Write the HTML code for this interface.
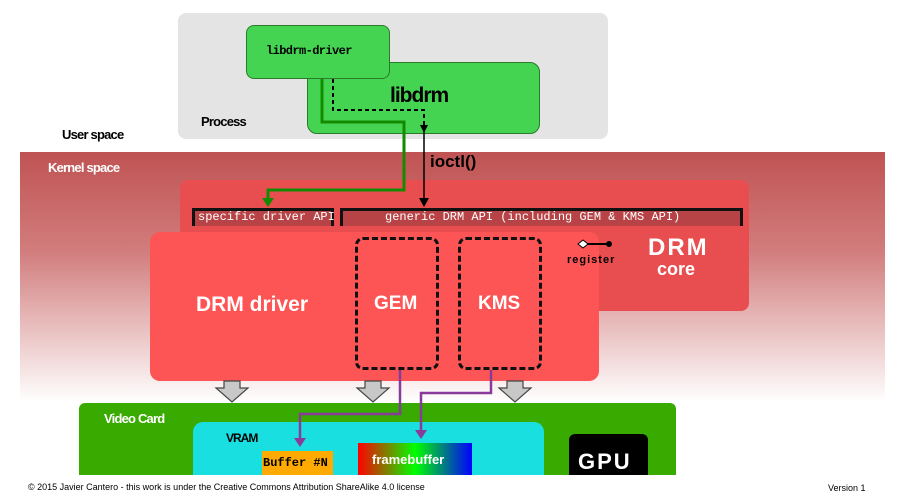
<!DOCTYPE html>
<html><head><meta charset="utf-8"><style>
body{margin:0;width:899px;height:504px;background:#fff;overflow:hidden;position:relative;font-family:"Liberation Sans",sans-serif}
.a{position:absolute;box-sizing:border-box}
.t{position:absolute;white-space:nowrap}
.mono{font-family:"Liberation Mono",monospace}
</style></head><body>
<div class="a" style="left:178px;top:13px;width:430px;height:126px;background:#e4e4e4;border-radius:8px"></div>
<div class="t" style="left:201px;top:114px;font-size:13px;font-weight:bold;letter-spacing:-0.8px">Process</div>
<div class="t" style="left:62px;top:127px;font-size:13px;font-weight:bold;letter-spacing:-0.8px">User space</div>
<div class="a" style="left:307px;top:62px;width:233px;height:72px;background:#44d452;border:1px solid #2a7a2a;border-radius:10px"></div>
<div class="t" style="left:390px;top:84px;font-size:21px;font-weight:bold;letter-spacing:-1px">libdrm</div>
<div class="a" style="left:246px;top:25px;width:144px;height:54px;background:#44d452;border:1px solid #2a7a2a;border-radius:8px"></div>
<div class="t mono" style="left:266px;top:44px;font-size:12px;font-weight:bold;letter-spacing:-0.6px">libdrm-driver</div>
<div class="a" style="left:20px;top:152px;width:865px;height:250px;background:linear-gradient(#c05353,#d27d7d 40%,#fff 100%)"></div>
<div class="t" style="left:48px;top:160px;font-size:13px;font-weight:bold;color:#fff;letter-spacing:-0.8px">Kernel space</div>
<div class="a" style="left:180px;top:180px;width:569px;height:131px;background:#e84e50;border-radius:8px"></div>
<div class="a" style="left:192px;top:208px;width:142px;height:18px;background:#b84347;border:3px solid #111;border-bottom:none"></div>
<div class="t mono" style="left:198px;top:210px;font-size:12px;color:#fff">specific driver API</div>
<div class="a" style="left:340px;top:208px;width:403px;height:18px;background:#b84347;border:3px solid #111;border-bottom:none"></div>
<div class="t mono" style="left:385px;top:210px;font-size:12px;color:#fff">generic DRM API (including GEM &amp; KMS API)</div>
<div class="t" style="left:648px;top:234px;font-size:24px;font-weight:bold;color:#fff;letter-spacing:2px">DRM</div>
<div class="t" style="left:657px;top:259px;font-size:18px;font-weight:bold;color:#fff">core</div>
<div class="a" style="left:150px;top:232px;width:449px;height:149px;background:#fd5555;border-radius:10px"></div>
<div class="t" style="left:567px;top:254px;font-size:11px;font-weight:bold;letter-spacing:1px">register</div>
<div class="t" style="left:196px;top:293px;font-size:21px;font-weight:bold;color:#fff">DRM driver</div>
<div class="a" style="left:355px;top:237px;width:84px;height:133px;border:3px dashed #111;border-radius:8px"></div>
<div class="t" style="left:374px;top:293px;font-size:19px;font-weight:bold;color:#fff">GEM</div>
<div class="a" style="left:458px;top:237px;width:84px;height:133px;border:3px dashed #111;border-radius:8px"></div>
<div class="t" style="left:478px;top:293px;font-size:19px;font-weight:bold;color:#fff">KMS</div>
<div class="a" style="left:79px;top:403px;width:597px;height:72px;background:#38aa00;border-radius:6px 6px 0 0"></div>
<div class="t" style="left:104px;top:411px;font-size:13px;font-weight:bold;color:#fff;letter-spacing:-0.8px">Video Card</div>
<div class="a" style="left:193px;top:422px;width:351px;height:53px;background:#1adfe0;border-radius:10px 10px 0 0"></div>
<div class="t" style="left:226px;top:431px;font-size:12px;font-weight:bold;letter-spacing:-1px">VRAM</div>
<div class="a" style="left:262px;top:451px;width:71px;height:24px;background:#ffaa00"></div>
<div class="t mono" style="left:263px;top:456px;font-size:12px;font-weight:bold">Buffer #N</div>
<div class="a" style="left:358px;top:443px;width:114px;height:32px;background:linear-gradient(90deg,#ff0000,#00ff00 50%,#0000ff)"></div>
<div class="t" style="left:372px;top:452px;font-size:13px;font-weight:bold;color:#fff">framebuffer</div>
<div class="a" style="left:569px;top:434px;width:79px;height:41px;background:#000;border-radius:6px 6px 0 0"></div>
<div class="t" style="left:578px;top:449px;font-size:22px;font-weight:bold;color:#fff;letter-spacing:2px">GPU</div>
<div class="t" style="left:28px;top:482px;font-size:9px">© 2015 Javier Cantero - this work is under the Creative Commons Attribution ShareAlike 4.0 license</div>
<div class="t" style="left:828px;top:483px;font-size:9px">Version 1</div>
<div class="t" style="left:430px;top:152px;font-size:17px;font-weight:bold">ioctl()</div>
<svg class="a" style="left:0;top:0" width="899" height="504">
<polyline points="322,79 322,122 404,122 404,190 268,190 268,200" fill="none" stroke="#148a00" stroke-width="3"/>
<polygon points="262,198 274,198 268,207" fill="#148a00"/>
<polyline points="333,79 333,110 424,110 424,125" fill="none" stroke="#000" stroke-width="2" stroke-dasharray="4,3"/>
<line x1="424" y1="125" x2="424" y2="198" stroke="#000" stroke-width="1.5"/>
<polygon points="420,125 428,125 424,133" fill="#000"/>
<polygon points="419,198 429,198 424,207" fill="#000"/>
<line x1="585" y1="244" x2="609" y2="244" stroke="#000" stroke-width="2"/>
<polygon points="578,244 583,240 588,244 583,248" fill="#fff" stroke="#000"/>
<circle cx="609" cy="244" r="3" fill="#000"/>
<g fill="#c8c8c8" stroke="#444" stroke-width="1.2">
<polygon points="224,381 240,381 240,388 248,388 232,402 216,388 224,388"/>
<polygon points="365,381 381,381 381,388 389,388 373,402 357,388 365,388"/>
<polygon points="507,381 523,381 523,388 531,388 515,402 499,388 507,388"/>
</g>
<polyline points="400,370 400,414 300,414 300,440" fill="none" stroke="#8a3a9a" stroke-width="2.5"/>
<polygon points="294,438 306,438 300,447" fill="#8a3a9a"/>
<polyline points="491,370 491,393 421,393 421,432" fill="none" stroke="#8a3a9a" stroke-width="2.5"/>
<polygon points="415,430 427,430 421,439" fill="#8a3a9a"/>
</svg>
</body></html>
